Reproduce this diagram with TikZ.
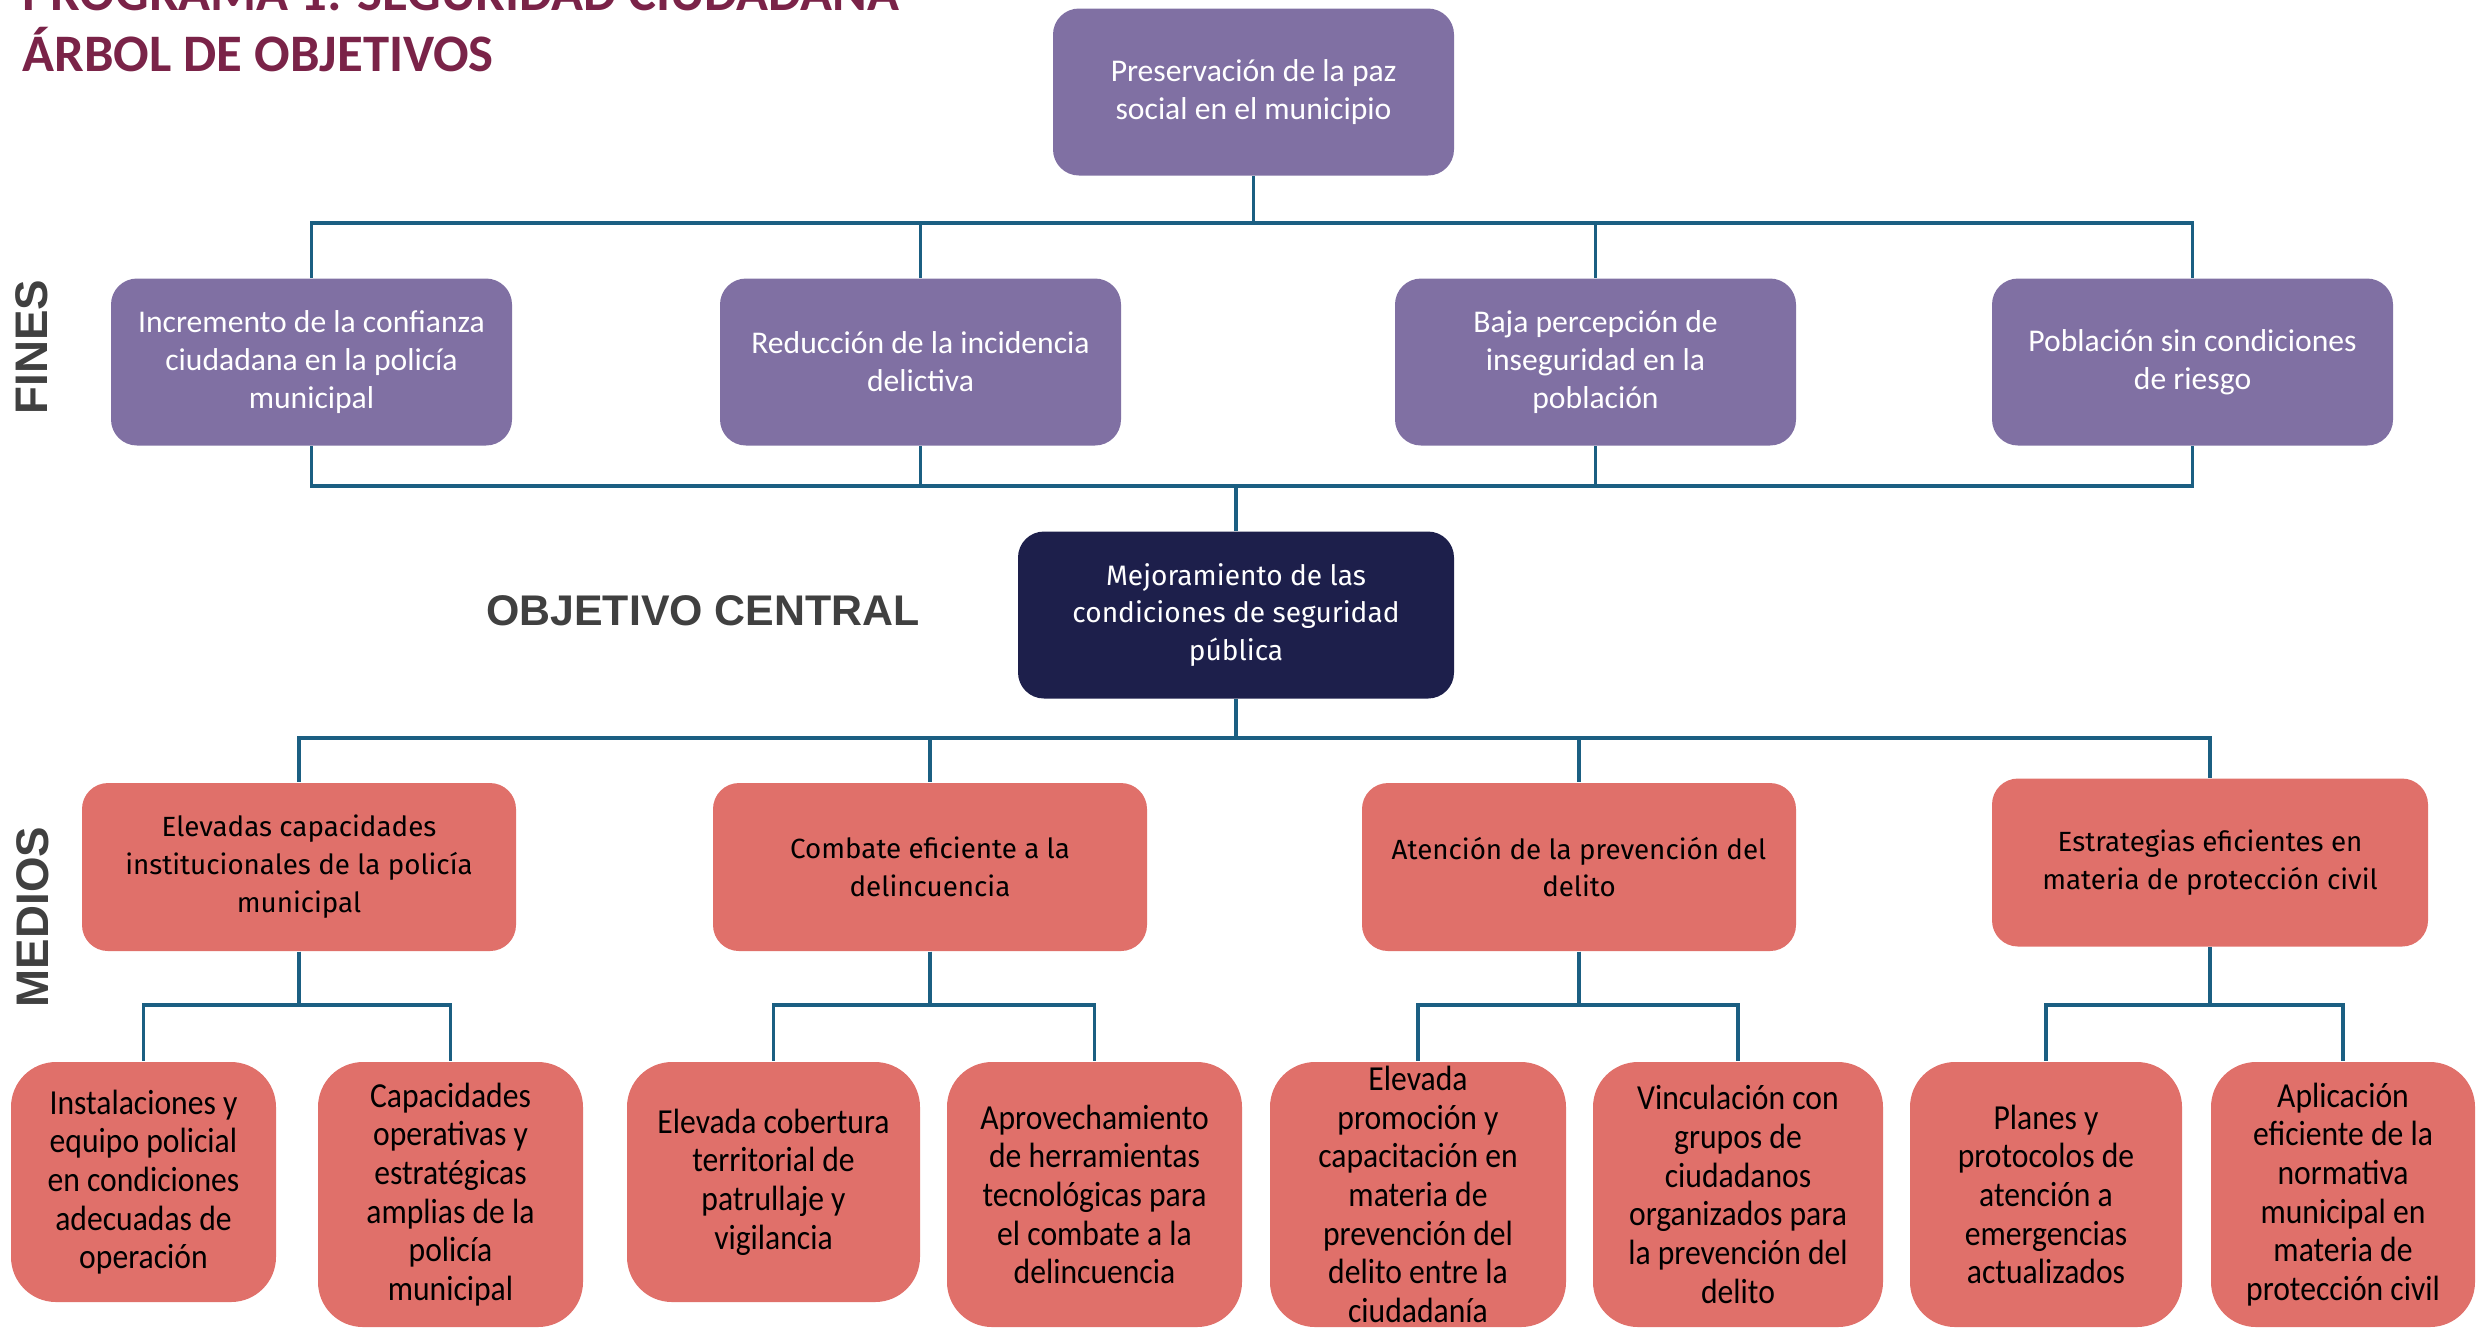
\documentclass[tikz,border=0pt]{standalone}
\usepackage{fontspec}
\setmainfont{Carlito}
\newfontfamily\plexfont{Fira Sans}
\newfontfamily\narrowfont[FakeStretch=0.9]{Carlito}
\newfontfamily\headfont{Liberation Sans}
\usepackage{tikz}
\usetikzlibrary{positioning}
\definecolor{finfill}{HTML}{8070A3}
\definecolor{cenfill}{HTML}{1D1F4B}
\definecolor{medfill}{HTML}{E0706A}
\definecolor{linecol}{HTML}{1B5F82}
\definecolor{titlecol}{HTML}{7A2348}
\definecolor{headcol}{HTML}{404040}

\begin{document}
\begin{tikzpicture}[x=0.1mm,y=-0.1mm,every node/.style={rectangle,align=center,inner sep=0pt},
  fin/.style={rounded corners=2.6mm,fill=finfill,text=white,minimum width=40.1mm,minimum height=16.7mm,font=\fontsize{9}{10.8}\selectfont},
  cen/.style={rounded corners=2.6mm,fill=cenfill,text=white,minimum width=43.6mm,minimum height=16.7mm,font=\plexfont\fontsize{8}{10.8}\selectfont},
  med/.style={rounded corners=2.6mm,fill=medfill,minimum width=43.4mm,minimum height=16.8mm,font=\plexfont\fontsize{7.9}{10.8}\selectfont},
  low/.style={rounded corners=4.5mm,fill=medfill,minimum height=26.5mm,font=\narrowfont\fontsize{10}{11}\selectfont},
  head/.style={text=headcol,font=\headfont\bfseries\fontsize{13}{15}\selectfont},
  conn/.style={draw=linecol,line width=1.1pt}]
  \useasboundingbox (0,0) rectangle (2483,1328);
  \node[anchor=base west,text=titlecol,font=\bfseries\fontsize{15}{16}\selectfont] (prog) at (22,10) {PROGRAMA 1: SEGURIDAD CIUDADANA};
  \node[anchor=base west,text=titlecol,font=\bfseries\fontsize{15}{16}\selectfont] (arbol) at (22,71) {ÁRBOL DE OBJETIVOS};
  \node[head,rotate=90] (fines) at (32,347) {FINES};
  \node[head,rotate=90] (medios) at (33,917) {MEDIOS};
  \node[head,font=\headfont\bfseries\fontsize{12.2}{15}\selectfont] (objc) at (703,611) {OBJETIVO CENTRAL};
  % fines
  \node[fin] (paz) at (1253.5,92) {Preservación de la paz\\social en el municipio};
  \node[fin] (f1) at (311.5,362) {Incremento de la confianza\\ciudadana en la policía\\municipal};
  \node[fin] (f2) at (920.5,362) {Reducción de la incidencia\\delictiva};
  \node[fin] (f3) at (1595.5,362) {Baja percepción de\\inseguridad en la\\población};
  \node[fin] (f4) at (2192.5,362) {Población sin condiciones\\de riesgo};
  \node[cen] (mej) at (1236,615) {Mejoramiento de las\\condiciones de seguridad\\pública};
  % medios
  \node[med] (m1) at (299,867) {Elevadas capacidades\\institucionales de la policía\\municipal};
  \node[med] (m2) at (930,867) {Combate eficiente a la\\delincuencia};
  \node[med] (m3) at (1579,867) {Atención de la prevención del\\delito};
  \node[med,minimum width=43.6mm] (m4) at (2210,862.5) {Estrategias eficientes en\\materia de protección civil};
  \node[low,minimum width=26.5mm,minimum height=24mm] (b1) at (143.5,1182) {Instalaciones y\\equipo policial\\en condiciones\\adecuadas de\\operación};
  \node[low,minimum width=26.5mm] (b2) at (450.5,1194.5) {Capacidades\\operativas y\\estratégicas\\amplias de la\\policía\\municipal};
  \node[low,minimum width=29.3mm,minimum height=24mm] (b3) at (773.5,1182) {Elevada cobertura\\territorial de\\patrullaje y\\vigilancia};
  \node[low,minimum width=29.5mm] (b4) at (1094.5,1194.5) {Aprovechamiento\\de herramientas\\tecnológicas para\\el combate a la\\delincuencia};
  \node[low,minimum width=29.6mm] (b5) at (1418,1194.5) {Elevada\\promoción y\\capacitación en\\materia de\\prevención del\\delito entre la\\ciudadanía};
  \node[low,minimum width=29mm] (b6) at (1738,1194.5) {Vinculación con\\grupos de\\ciudadanos\\organizados para\\la prevención del\\delito};
  \node[low,minimum width=27.2mm] (b7) at (2046,1194.5) {Planes y\\protocolos de\\atención a\\emergencias\\actualizados};
  \node[low,minimum width=26.4mm] (b8) at (2343,1194.5) {Aplicación\\eficiente de la\\normativa\\municipal en\\materia de\\protección civil};
  % buses
  \coordinate (busA) at (0,223);
  \coordinate (busB) at (0,486);
  \coordinate (busC) at (0,738);
  \coordinate (busD) at (0,1005);
  \foreach \n in {f1,f2,f3,f4} \draw[conn] (paz.south) |- (busA -| \n) -- (\n.north);
  \foreach \n in {f1,f2,f3,f4} \draw[conn] (\n.south) |- (busB -| mej) -- (mej.north);
  \foreach \n in {m1,m2,m3,m4} \draw[conn] (mej.south) |- (busC -| \n) -- (\n.north);
  \draw[conn](m1.south) |- (busD -| b1) -- (b1.north);
  \draw[conn](m1.south) |- (busD -| b2) -- (b2.north);
  \draw[conn](m2.south) |- (busD -| b3) -- (b3.north);
  \draw[conn](m2.south) |- (busD -| b4) -- (b4.north);
  \draw[conn](m3.south) |- (busD -| b5) -- (b5.north);
  \draw[conn](m3.south) |- (busD -| b6) -- (b6.north);
  \draw[conn](m4.south) |- (busD -| b7) -- (b7.north);
  \draw[conn](m4.south) |- (busD -| b8) -- (b8.north);
\end{tikzpicture}
\end{document}
